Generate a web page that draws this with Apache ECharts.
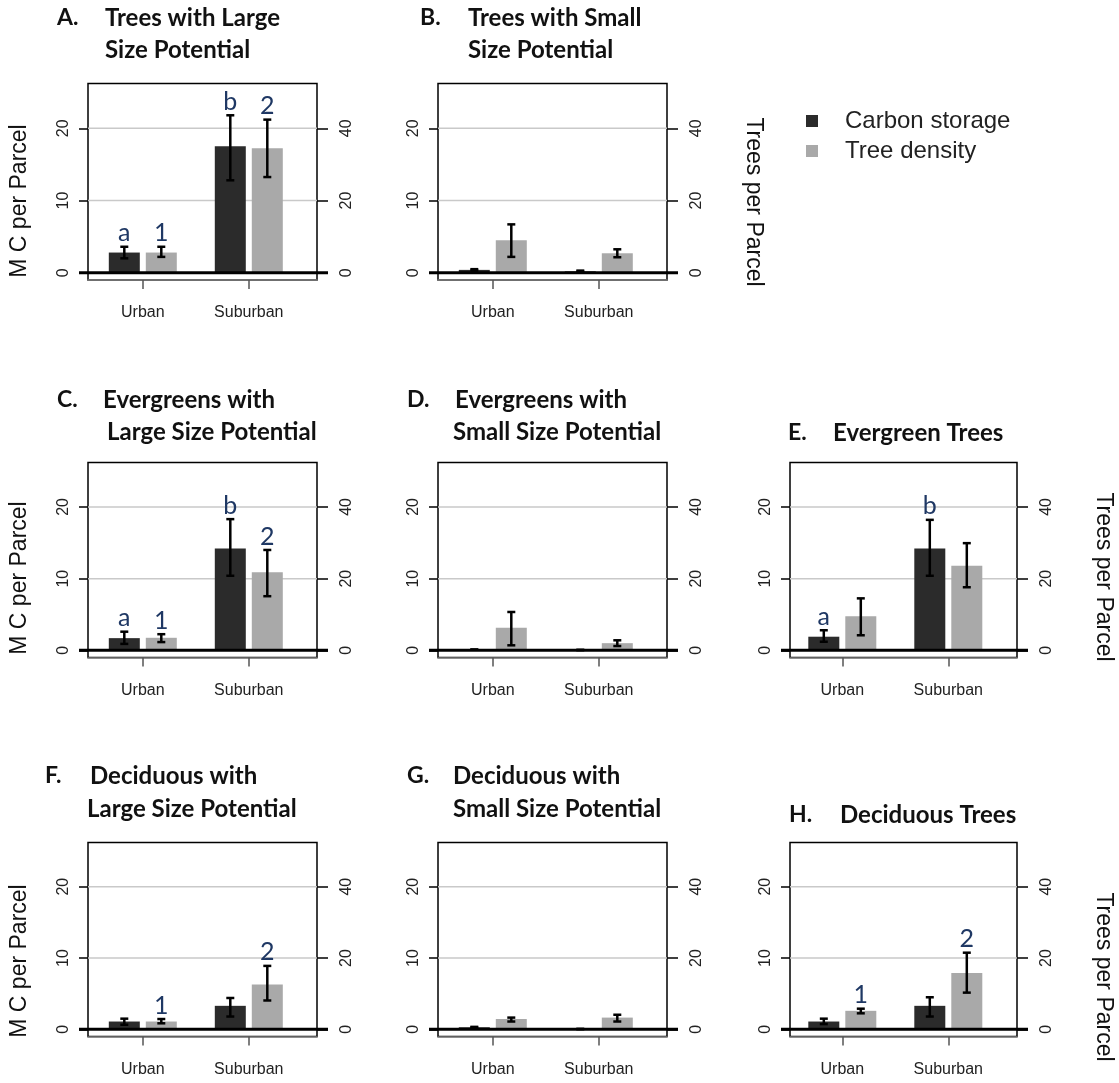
<!DOCTYPE html>
<html>
<head>
<meta charset="utf-8">
<script src="https://cdn.jsdelivr.net/npm/echarts@6/dist/echarts.min.js"></script>
<style>
  html, body { margin: 0; padding: 0; background: #ffffff; }
  #chart { width: 1119px; height: 1083px; }
</style>
</head>
<body>
<div id="chart"></div>
<script>
// ---- Data -------------------------------------------------------------
const categories = ['Urban', 'Suburban'];
const panelKeys = ['A', 'B', 'C', 'D', 'E', 'F', 'G', 'H'];
const panelTitles = [
  ['Trees with Large', 'Size Potential'],
  ['Trees with Small', 'Size Potential'],
  ['Evergreens with', 'Large Size Potential'],
  ['Evergreens with', 'Small Size Potential'],
  ['Evergreen Trees'],
  ['Deciduous with', 'Large Size Potential'],
  ['Deciduous with', 'Small Size Potential'],
  ['Deciduous Trees']
];

// Carbon storage (M C per parcel), [Urban, Suburban] for panels A..H
const carbonMean = [[2.8, 17.5], [0.4, 0.2], [1.7, 14.2], [0.1, 0.05], [1.9, 14.2], [1.1, 3.3], [0.3, 0.05], [1.1, 3.3]];
const carbonLow  = [[2.0, 12.8], [0.3, 0.15], [0.9, 10.4], [0.08, 0.03], [1.2, 10.4], [0.65, 1.8], [0.25, 0.03], [0.74, 1.8]];
const carbonHigh = [[3.6, 21.8], [0.5, 0.3], [2.6, 18.3], [0.12, 0.07], [2.8, 18.2], [1.5, 4.4], [0.35, 0.07], [1.5, 4.5]];

// Tree density (trees per parcel), [Urban, Suburban] for panels A..H
const densityMean = [[5.6, 34.5], [9.0, 5.4], [3.5, 21.8], [6.3, 2.0], [9.5, 23.6], [2.2, 12.6], [2.9, 3.3], [5.2, 15.8]];
const densityLow  = [[4.4, 26.5], [4.4, 4.3], [2.3, 15.1], [1.4, 1.2], [4.2, 17.6], [1.7, 8.1], [2.2, 2.2], [4.5, 10.3]];
const densityHigh = [[7.2, 42.4], [13.4, 6.5], [4.5, 28.0], [10.7, 2.8], [14.5, 29.9], [2.9, 17.8], [3.3, 4.1], [5.8, 21.5]];

// Significance groupings printed above the bars
const carbonLetters  = [['a', 'b'], ['', ''], ['a', 'b'], ['', ''], ['a', 'b'], ['', ''], ['', ''], ['', '']];
const densityLetters = [['1', '2'], ['', ''], ['1', '2'], ['', ''], ['', ''], ['1', '2'], ['', ''], ['1', '2']];

const carbonTicks = [0, 10, 20];
const densityTicks = [0, 20, 40];

// ---- Layout & style ---------------------------------------------------
const DARK = '#2b2b2b';
const LIGHT = '#a9a9a9';
const LETTER = '#1f3864';
const TICK_FONT = '"Liberation Sans", Arial, sans-serif';
const TITLE_FONT = 'Lato, "Open Sans", sans-serif';

const colLeft = [88, 438, 790];
const colWidth = [229, 229, 227];
const colFirstCat = [54.8, 54.8, 52.3];   // px from box edge to the Urban tick
const rowTop = [83.5, 462.5, 842.5];
const rowHeight = [196.5, 195, 194];
const panelCell = [[0, 0], [1, 0], [0, 1], [1, 1], [2, 1], [0, 2], [1, 2], [2, 2]];
const CAT_PX = 106;                       // px between category centres
const BAR_W = 31 / CAT_PX;
const BAR_SHIFT = 18.5 / CAT_PX;
const CARBON_RANGE = [-1, 26.2];
const DENSITY_RANGE = [-2, 52.4];

const titleLayout = [
  { lx: 57,  tx: [105, 105], ty: [18, 50] },
  { lx: 420, tx: [468, 468], ty: [18, 50] },
  { lx: 57,  tx: [103, 107], ty: [400, 432] },
  { lx: 407, tx: [455, 453], ty: [400, 432] },
  { lx: 788, tx: [833],      ty: [433] },
  { lx: 45,  tx: [90, 87],   ty: [776, 809] },
  { lx: 407, tx: [453, 453], ty: [776, 809] },
  { lx: 789, tx: [840],      ty: [815] }
];

// ---- Renderers --------------------------------------------------------
function barRenderer(shift, fill, letters) {
  return function (params, api) {
    const i = params.dataIndex;
    const x = api.value(0) + shift;
    const base = api.coord([x, 0]);
    const top = api.coord([x, api.value(1)]);
    const lo = api.coord([x, api.value(2)]);
    const hi = api.coord([x, api.value(3)]);
    const w = api.size([BAR_W, 0])[0];
    const cap = 4;
    const err = { stroke: '#000', lineWidth: 2.5 };
    const children = [
      { type: 'rect', shape: { x: base[0] - w / 2, y: top[1], width: w, height: base[1] - top[1] }, style: { fill: fill } },
      { type: 'line', shape: { x1: lo[0], y1: lo[1], x2: hi[0], y2: hi[1] }, style: err },
      { type: 'line', shape: { x1: hi[0] - cap, y1: hi[1], x2: hi[0] + cap, y2: hi[1] }, style: err },
      { type: 'line', shape: { x1: lo[0] - cap, y1: lo[1], x2: lo[0] + cap, y2: lo[1] }, style: err }
    ];
    if (letters[i]) {
      children.push({
        type: 'text', x: hi[0], y: hi[1] - 1,
        style: { text: letters[i], fill: LETTER, fontSize: 25, fontFamily: TITLE_FONT, align: 'center', verticalAlign: 'bottom' }
      });
    }
    return { type: 'group', children: children };
  };
}

function gridLineRenderer(params, api) {
  const cs = params.coordSys;
  const children = carbonTicks.filter(function (v) { return v !== 0; }).map(function (v) {
    const y = api.coord([1, v])[1];
    return { type: 'line', shape: { x1: cs.x, y1: y, x2: cs.x + cs.width, y2: y }, style: { stroke: '#c9c9c9', lineWidth: 1.5 } };
  });
  return { type: 'group', children: children };
}

function zeroLineRenderer(params, api) {
  const cs = params.coordSys;
  const y = api.coord([1, 0])[1];
  return { type: 'line', shape: { x1: cs.x - 9, y1: y, x2: cs.x + cs.width + 11, y2: y }, style: { stroke: '#000', lineWidth: 3 } };
}

// ---- Build option -----------------------------------------------------
const grids = [], xAxes = [], yAxes = [], series = [], graphics = [];

panelKeys.forEach(function (key, k) {
  const col = panelCell[k][0], row = panelCell[k][1];
  const xMin = 1 - colFirstCat[col] / CAT_PX;
  const xMax = xMin + colWidth[col] / CAT_PX;

  grids.push({
    left: colLeft[col], top: rowTop[row], width: colWidth[col], height: rowHeight[row],
    show: true, borderColor: '#000', borderWidth: 1.5, backgroundColor: 'transparent',
    containLabel: false, outerBoundsMode: 'none'
  });

  xAxes.push({
    gridIndex: k, type: 'value', min: xMin, max: xMax,
    axisLine: { show: true, onZero: false, lineStyle: { color: '#808080', width: 1.5 } },
    axisTick: { show: true, customValues: [1, 2], length: 9, lineStyle: { color: '#555', width: 1.5 } },
    axisLabel: {
      customValues: [1, 2], margin: 25, fontSize: 16, fontFamily: TICK_FONT, color: '#222',
      formatter: function (v) { return categories[Math.round(v) - 1]; }
    },
    splitLine: { show: false }
  });

  yAxes.push({
    gridIndex: k, type: 'value', position: 'left', min: CARBON_RANGE[0], max: CARBON_RANGE[1],
    axisLine: { show: false },
    axisTick: { show: true, customValues: carbonTicks, length: 9, lineStyle: { color: '#000', width: 1.5 } },
    axisLabel: { customValues: carbonTicks, rotate: 90, margin: 16, fontSize: 16, fontFamily: TICK_FONT, color: '#222' },
    splitLine: { show: false }
  });
  yAxes.push({
    gridIndex: k, type: 'value', position: 'right', min: DENSITY_RANGE[0], max: DENSITY_RANGE[1],
    axisLine: { show: false },
    axisTick: { show: true, customValues: densityTicks, length: 11, lineStyle: { color: '#000', width: 1.5 } },
    axisLabel: { customValues: densityTicks, rotate: 90, margin: 22, fontSize: 16, fontFamily: TICK_FONT, color: '#222' },
    splitLine: { show: false }
  });

  const carbonData = categories.map(function (c, j) {
    return [j + 1, carbonMean[k][j], carbonLow[k][j], carbonHigh[k][j]];
  });
  const densityData = categories.map(function (c, j) {
    return [j + 1, densityMean[k][j], densityLow[k][j], densityHigh[k][j]];
  });

  series.push({
    type: 'custom', name: 'grid ' + key, xAxisIndex: k, yAxisIndex: 2 * k, z: 1, silent: true,
    data: [[1, 0]], renderItem: gridLineRenderer
  });
  series.push({
    type: 'custom', name: 'Carbon storage', xAxisIndex: k, yAxisIndex: 2 * k, z: 3,
    itemStyle: { color: DARK }, encode: { x: 0, y: 1 },
    data: carbonData, renderItem: barRenderer(-BAR_SHIFT, DARK, carbonLetters[k])
  });
  series.push({
    type: 'custom', name: 'Tree density', xAxisIndex: k, yAxisIndex: 2 * k + 1, z: 3,
    itemStyle: { color: LIGHT }, encode: { x: 0, y: 1 },
    data: densityData, renderItem: barRenderer(BAR_SHIFT, LIGHT, densityLetters[k])
  });
  series.push({
    type: 'custom', name: 'zero ' + key, xAxisIndex: k, yAxisIndex: 2 * k, z: 5, silent: true,
    data: [[1, 0]], renderItem: zeroLineRenderer
  });

  // Panel headings
  const tl = titleLayout[k];
  graphics.push({
    type: 'text', x: tl.lx, y: tl.ty[0],
    style: { text: key + '.', fill: '#111', font: 'bold 23px ' + TITLE_FONT, verticalAlign: 'middle', align: 'left' }
  });
  panelTitles[k].forEach(function (line, li) {
    graphics.push({
      type: 'text', x: tl.tx[li], y: tl.ty[li],
      style: { text: line, fill: '#111', font: 'bold 24px ' + TITLE_FONT, verticalAlign: 'middle', align: 'left' }
    });
  });
});

// Axis titles
[201, 578, 961].forEach(function (y) {
  graphics.push({
    type: 'text', x: 20, y: y, rotation: Math.PI / 2,
    style: { text: 'M C per Parcel', fill: '#111', font: '23px ' + TICK_FONT, align: 'center', verticalAlign: 'middle' }
  });
});
[[753, 202], [1103, 577], [1103, 977]].forEach(function (p) {
  graphics.push({
    type: 'text', x: p[0], y: p[1], rotation: -Math.PI / 2,
    style: { text: 'Trees per Parcel', fill: '#111', font: '23px ' + TICK_FONT, align: 'center', verticalAlign: 'middle' }
  });
});

const option = {
  animation: false,
  backgroundColor: '#ffffff',
  grid: grids,
  xAxis: xAxes,
  yAxis: yAxes,
  series: series,
  graphic: graphics,
  legend: {
    data: ['Carbon storage', 'Tree density'],
    orient: 'vertical', left: 801, top: 103,
    icon: 'rect', itemWidth: 12, itemHeight: 12, itemGap: 4,
    selectedMode: false,
    textStyle: { fontSize: 24, lineHeight: 26, fontFamily: TICK_FONT, color: '#222', padding: [0, 0, 0, 22] }
  }
};

const chart = echarts.init(document.getElementById('chart'), null, { renderer: 'canvas' });
chart.setOption(option);
</script>
</body>
</html>
